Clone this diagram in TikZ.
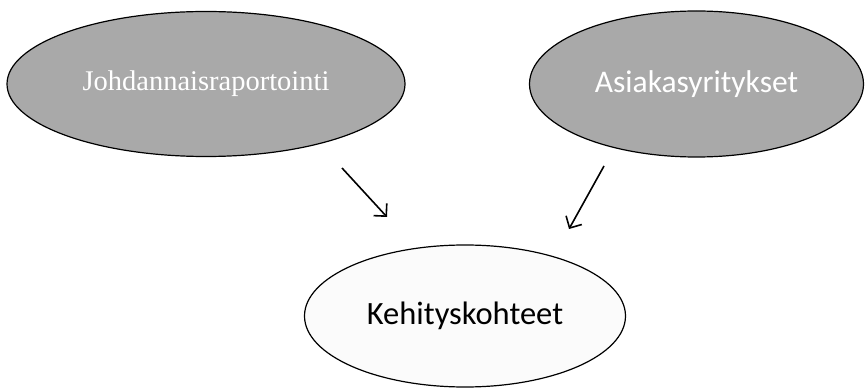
\documentclass[tikz,border=0pt]{standalone}
\usepackage{fontspec}
\setmainfont{Liberation Serif}
\newfontfamily\calfont{Carlito}
\usetikzlibrary{shapes.geometric,arrows.meta}
\begin{document}
\begin{tikzpicture}[x=1pt,y=-1pt,
  ell/.style={ellipse,draw=black,line width=1.2pt,inner sep=0pt},
  dark/.style={ell,fill={rgb,255:red,169;green,169;blue,169},text=white},
  light/.style={ell,fill={rgb,255:red,251;green,251;blue,251},text=black},
  arr/.style={line width=1.6pt,-{Straight Barb[length=9pt,width=18pt,line width=1.6pt]}}]
\useasboundingbox (0,0) rectangle (865,390);
\node[dark,minimum width=398pt,minimum height=145pt,font=\fontsize{28.5}{34}\selectfont] (j) at (206,84) {Johdannaisraportointi};
\node[dark,minimum width=334pt,minimum height=146pt,font=\calfont\fontsize{31.5}{38}\selectfont] (a) at (696.5,84) {Asiakasyritykset};
\node[light,minimum width=321pt,minimum height=142pt,font=\calfont\fontsize{32.5}{39}\selectfont] (k) at (465,316) {Kehityskohteet};
\coordinate (j1) at (342,168);
\coordinate (j2) at (387,217);
\coordinate (a1) at (604,166);
\coordinate (a2) at (569,229);
\draw[arr] (j1) -- (j2);
\draw[arr] (a1) -- (a2);
\end{tikzpicture}
\end{document}
